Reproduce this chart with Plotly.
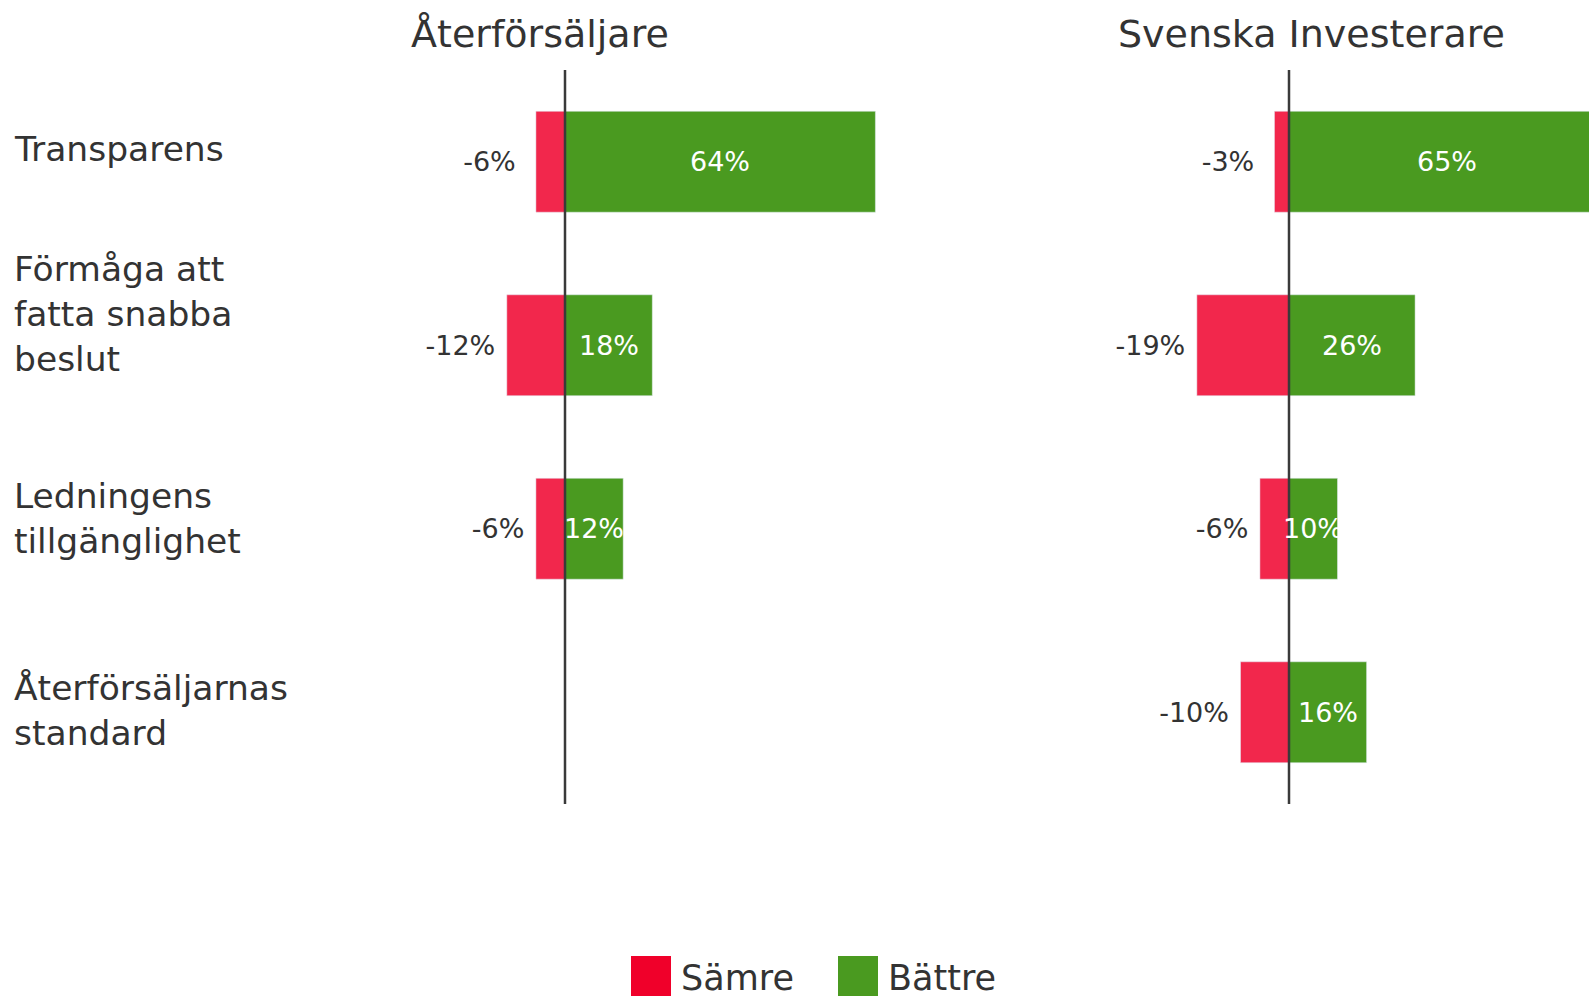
import plotly.graph_objects as go

# ---------------- data ----------------
categories = ["Transparens", "Förmåga att fatta snabba beslut",
              "Ledningens tillgänglighet", "Återförsäljarnas standard"]
category_labels = ["Transparens", "Förmåga att<br>fatta snabba<br>beslut",
                   "Ledningens<br>tillgänglighet", "Återförsäljarnas<br>standard"]
panel_titles = ["Återförsäljare", "Svenska Investerare"]
series_names = ["Sämre", "Bättre"]

aterf_samre = [-6, -12, -6, None]
aterf_battre = [64, 18, 12, None]
inv_samre = [-3, -19, -6, -10]
inv_battre = [65, 26, 10, 16]

# ---------------- styling ----------------
W, H = 1589, 997
FONT = "DejaVu Sans"
TXT = "#333333"
RED_BAR = "#F2274C"
GREEN_BAR = "#4A9A20"
RED_LEG = "#F0002A"
GREEN_LEG = "#4A9A20"
S = 4.85  # px per percent
NB = "\u00a0"

def neg_text(vals, pads):
    return [None if v is None else f"{v}%" + NB * p for v, p in zip(vals, pads)]

fig = go.Figure()
annotations = []

def add_pair(samre, battre, xa, ya, pads):
    fig.add_trace(go.Bar(
        y=categories, x=samre, orientation="h", name=series_names[0],
        xaxis=xa, yaxis=ya, width=0.55, showlegend=False,
        marker=dict(color=RED_BAR, line=dict(color="#E5ECF6", width=0.5)),
        text=neg_text(samre, pads), textposition="outside", textangle=0,
        outsidetextfont=dict(family=FONT, size=27, color=TXT),
        cliponaxis=False, hoverinfo="skip"))
    fig.add_trace(go.Bar(
        y=categories, x=battre, orientation="h", name=series_names[1],
        xaxis=xa, yaxis=ya, width=0.55, showlegend=False,
        marker=dict(color=GREEN_BAR, line=dict(color="#E5ECF6", width=0.5)),
        hoverinfo="skip"))
    # value labels centred in the green bars (placed through the axis scale)
    for cat, v in zip(categories, battre):
        if v is None:
            continue
        annotations.append(dict(text=f"{v}%", xref=xa, yref=ya, x=v / 2, y=cat,
                                xanchor="center", yanchor="middle", showarrow=False,
                                font=dict(family=FONT, size=27, color="white")))

add_pair(aterf_samre, aterf_battre, "x", "y", [2, 1, 1, 1])
add_pair(inv_samre, inv_battre, "x2", "y2", [2, 1, 1, 1])

ydom = [(H - 804) / H, (H - 70) / H]
z1, l1, r1 = 565, 330, 900
z2, l2, r2 = 1289, 1000, 1589

yax = dict(domain=ydom, type="category", categoryorder="array",
           categoryarray=categories, range=[3.5, -0.5], visible=False,
           showgrid=False, zeroline=False)

fig.update_layout(
    width=W, height=H, barmode="overlay",
    margin=dict(l=0, r=0, t=0, b=0),
    paper_bgcolor="white", plot_bgcolor="white",
    font=dict(family=FONT, color=TXT),
    showlegend=False,
    xaxis=dict(domain=[l1 / W, r1 / W], range=[-(z1 - l1) / S, (r1 - z1) / S],
               visible=False, showgrid=False, zeroline=False, anchor="y"),
    yaxis=dict(yax, anchor="x"),
    xaxis2=dict(domain=[l2 / W, r2 / W], range=[-(z2 - l2) / S, (r2 - z2) / S],
                visible=False, showgrid=False, zeroline=False, anchor="y2"),
    yaxis2=dict(yax, anchor="x2"),
)

shapes = []
for xr, yr in [("x", "y domain"), ("x2", "y2 domain")]:
    shapes.append(dict(type="line", xref=xr, yref=yr, x0=0, x1=0, y0=0, y1=1,
                       line=dict(color="#3a3a3a", width=2.5), layer="above"))

# panel titles
for t, cx in zip(panel_titles, [540, 1311]):
    annotations.append(dict(text=t, xref="paper", yref="paper", x=cx / W,
                            y=1 - 34 / H, xanchor="center", yanchor="middle",
                            showarrow=False, font=dict(family=FONT, size=38, color=TXT)))
# category labels
for cat, lab, ys in zip(categories, category_labels, [13, 31, 10, 1.5]):
    annotations.append(dict(text=lab, xref="paper", yref="y", x=12 / W, y=cat,
                            xanchor="left", yanchor="middle", align="left",
                            yshift=ys, showarrow=False,
                            font=dict(family=FONT, size=34.5, color=TXT)))
# legend
for name, col, sx in zip(series_names, [RED_LEG, GREEN_LEG], [631, 838]):
    shapes.append(dict(type="rect", xref="paper", yref="paper",
                       x0=sx / W, x1=(sx + 40) / W, y0=1 - 996 / H, y1=1 - 956 / H,
                       fillcolor=col, line=dict(width=0), layer="above"))
    annotations.append(dict(text=name, xref="paper", yref="paper",
                            x=(sx + 48) / W, y=1 - 978 / H, xanchor="left",
                            yanchor="middle", showarrow=False,
                            font=dict(family=FONT, size=35, color=TXT)))

fig.update_layout(shapes=shapes, annotations=annotations)
fig.write_html("out.html", config={"displayModeBar": False},
               post_script="document.body.style.margin='0px';")
